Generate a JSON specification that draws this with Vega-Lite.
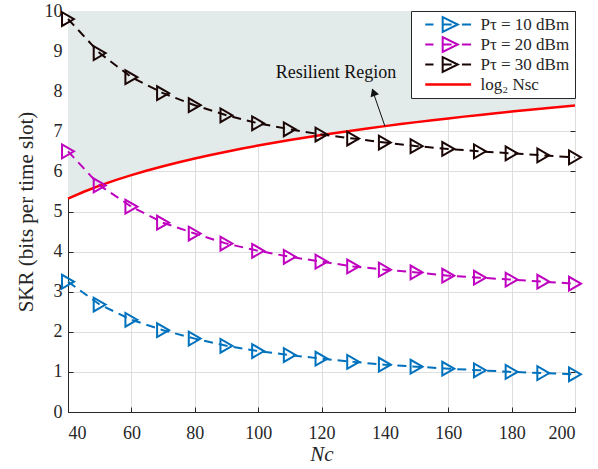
{
  "$schema": "https://vega.github.io/schema/vega-lite/v6.json",
  "width": 507,
  "height": 401,
  "autosize": {"type": "none"},
  "padding": {"left": 68, "top": 11, "right": 23, "bottom": 57},
  "background": "white",
  "config": {
    "font": "Liberation Serif",
    "view": {"stroke": "#262626", "strokeWidth": 1},
    "axis": {
      "labelFont": "Liberation Serif",
      "titleFont": "Liberation Serif",
      "labelFontSize": 18,
      "titleFontSize": 21,
      "titleFontWeight": "normal",
      "labelColor": "#262626",
      "titleColor": "#262626",
      "domainColor": "#262626",
      "tickColor": "#262626",
      "gridColor": "#dedede",
      "gridOpacity": 1,
      "tickSize": -5
    }
  },
  "datasets": {
    "series": [
      {"N": 40, "P": "10", "SKR": 3.25}, {"N": 50, "P": "10", "SKR": 2.68}, {"N": 60, "P": "10", "SKR": 2.3},
      {"N": 70, "P": "10", "SKR": 2.04}, {"N": 80, "P": "10", "SKR": 1.83}, {"N": 90, "P": "10", "SKR": 1.65},
      {"N": 100, "P": "10", "SKR": 1.52}, {"N": 110, "P": "10", "SKR": 1.42}, {"N": 120, "P": "10", "SKR": 1.33},
      {"N": 130, "P": "10", "SKR": 1.25}, {"N": 140, "P": "10", "SKR": 1.18}, {"N": 150, "P": "10", "SKR": 1.13},
      {"N": 160, "P": "10", "SKR": 1.08}, {"N": 170, "P": "10", "SKR": 1.04}, {"N": 180, "P": "10", "SKR": 1.0},
      {"N": 190, "P": "10", "SKR": 0.97}, {"N": 200, "P": "10", "SKR": 0.94},
      {"N": 40, "P": "20", "SKR": 6.5}, {"N": 50, "P": "20", "SKR": 5.65}, {"N": 60, "P": "20", "SKR": 5.12},
      {"N": 70, "P": "20", "SKR": 4.72}, {"N": 80, "P": "20", "SKR": 4.45}, {"N": 90, "P": "20", "SKR": 4.2},
      {"N": 100, "P": "20", "SKR": 4.02}, {"N": 110, "P": "20", "SKR": 3.87}, {"N": 120, "P": "20", "SKR": 3.75},
      {"N": 130, "P": "20", "SKR": 3.63}, {"N": 140, "P": "20", "SKR": 3.55}, {"N": 150, "P": "20", "SKR": 3.48},
      {"N": 160, "P": "20", "SKR": 3.4}, {"N": 170, "P": "20", "SKR": 3.35}, {"N": 180, "P": "20", "SKR": 3.3},
      {"N": 190, "P": "20", "SKR": 3.25}, {"N": 200, "P": "20", "SKR": 3.2},
      {"N": 40, "P": "30", "SKR": 9.8}, {"N": 50, "P": "30", "SKR": 8.95}, {"N": 60, "P": "30", "SKR": 8.35},
      {"N": 70, "P": "30", "SKR": 7.95}, {"N": 80, "P": "30", "SKR": 7.65}, {"N": 90, "P": "30", "SKR": 7.4},
      {"N": 100, "P": "30", "SKR": 7.2}, {"N": 110, "P": "30", "SKR": 7.05}, {"N": 120, "P": "30", "SKR": 6.92},
      {"N": 130, "P": "30", "SKR": 6.82}, {"N": 140, "P": "30", "SKR": 6.72}, {"N": 150, "P": "30", "SKR": 6.63},
      {"N": 160, "P": "30", "SKR": 6.56}, {"N": 170, "P": "30", "SKR": 6.5}, {"N": 180, "P": "30", "SKR": 6.45},
      {"N": 190, "P": "30", "SKR": 6.4}, {"N": 200, "P": "30", "SKR": 6.35}
    ],
    "bound": [
      {"N": 40, "v": 5.322}, {"N": 45, "v": 5.492}, {"N": 50, "v": 5.644}, {"N": 55, "v": 5.781},
      {"N": 60, "v": 5.907}, {"N": 65, "v": 6.022}, {"N": 70, "v": 6.129}, {"N": 75, "v": 6.229},
      {"N": 80, "v": 6.322}, {"N": 85, "v": 6.409}, {"N": 90, "v": 6.492}, {"N": 95, "v": 6.57},
      {"N": 100, "v": 6.644}, {"N": 105, "v": 6.714}, {"N": 110, "v": 6.781}, {"N": 115, "v": 6.845},
      {"N": 120, "v": 6.907}, {"N": 125, "v": 6.966}, {"N": 130, "v": 7.022}, {"N": 135, "v": 7.077},
      {"N": 140, "v": 7.129}, {"N": 145, "v": 7.18}, {"N": 150, "v": 7.229}, {"N": 155, "v": 7.276},
      {"N": 160, "v": 7.322}, {"N": 165, "v": 7.366}, {"N": 170, "v": 7.409}, {"N": 175, "v": 7.451},
      {"N": 180, "v": 7.492}, {"N": 185, "v": 7.531}, {"N": 190, "v": 7.57}, {"N": 195, "v": 7.607},
      {"N": 200, "v": 7.644}
    ],
    "note": [{"N": 124.6, "v": 8.45, "label": "Resilient Region"}],
    "arrow": [{"N": 140, "v": 7.13, "N2": 136.1, "v2": 8.02}],
    "head": [{"N": 136.4, "v": 7.975}]
  },
  "layer": [
    {
      "encoding": {
        "x": {
          "field": "N", "type": "quantitative",
          "scale": {"domain": [40, 200], "nice": false, "zero": false},
          "axis": {"values": [40, 60, 80, 100, 120, 140, 160, 180, 200], "title": "Nc", "titleFontStyle": "italic", "grid": true, "labelPadding": 17, "titlePadding": 1}
        },
        "y": {
          "field": "v", "type": "quantitative",
          "scale": {"domain": [0, 10], "nice": false},
          "axis": {"values": [0, 1, 2, 3, 4, 5, 6, 7, 8, 9, 10], "title": "SKR (bits per time slot)", "grid": true, "labelPadding": 11, "titlePadding": 8}
        }
      },
      "layer": [
        {
          "data": {"name": "bound"},
          "mark": {"type": "area", "color": "#e3eaea", "opacity": 1},
          "encoding": {"y2": {"datum": 10}}
        },
        {
          "data": {"name": "bound"},
          "mark": {"type": "line", "strokeWidth": 2.5},
          "encoding": {"color": {"datum": "log"}}
        },
        {
          "data": {"name": "series"},
          "mark": {"type": "line", "strokeWidth": 2, "strokeDash": [9, 6]},
          "encoding": {
            "y": {"field": "SKR", "type": "quantitative"},
            "color": {
              "field": "P", "type": "nominal",
              "scale": {"domain": ["10", "20", "30", "log"], "range": ["#0072BD", "#BF00BF", "#1a0505", "#FF0000"]},
              "legend": {
                "title": null,
                "orient": "top-right",
                "offset": 0,
                "padding": 5,
                "strokeColor": "#262626",
                "fillColor": "white",
                "cornerRadius": 0,
                "labelFont": "Liberation Serif",
                "labelFontSize": 17,
                "labelColor": "#262626",
                "labelOffset": 33,
                "symbolOffset": 14.5,
                "symbolSize": 2100,
                "symbolStrokeWidth": 2,
                "symbolFillColor": "transparent",
                "rowPadding": -4,
                "labelExpr": "datum.value == 'log' ? 'log₂ Nsc' : 'Pτ = ' + datum.value + ' dBm'",
                "encode": {
                  "symbols": {
                    "update": {
                      "shape": {"signal": "datum.value == 'log' ? 'M-0.6,0L1.4,0' : 'M-0.6,0L-0.24,0M0.16,-0.32L0.82,0L0.16,0.32ZM0.16,0L0.55,0M1,0L1.4,0'"},
                      "strokeWidth": {"signal": "datum.value == 'log' ? 2.5 : 2"}
                    }
                  }
                }
              }
            }
          }
        },
        {
          "data": {"name": "series"},
          "mark": {"type": "point", "shape": "triangle-right", "filled": false, "size": 190, "strokeWidth": 2, "opacity": 1},
          "encoding": {
            "y": {"field": "SKR", "type": "quantitative"},
            "color": {"field": "P", "type": "nominal"}
          }
        },
        {
          "data": {"name": "note"},
          "mark": {"type": "text", "font": "Liberation Serif", "fontSize": 18, "color": "#111111"},
          "encoding": {"text": {"field": "label"}}
        },
        {
          "data": {"name": "arrow"},
          "mark": {"type": "rule", "color": "#111111", "strokeWidth": 1},
          "encoding": {"x2": {"field": "N2"}, "y2": {"field": "v2"}}
        },
        {
          "data": {"name": "head"},
          "mark": {"type": "point", "shape": "triangle-up", "filled": true, "size": 80, "angle": -20, "color": "#111111", "opacity": 1},
          "encoding": {}
        }
      ]
    },
    {
      "data": {"name": "head"},
      "mark": {"type": "point", "opacity": 0},
      "encoding": {
        "x": {"field": "N", "type": "quantitative", "axis": {"orient": "top", "values": [40, 60, 80, 100, 120, 140, 160, 180, 200], "labels": false, "domain": false, "grid": false, "title": null}},
        "y": {"field": "v", "type": "quantitative", "axis": {"orient": "right", "values": [0, 1, 2, 3, 4, 5, 6, 7, 8, 9, 10], "labels": false, "domain": false, "grid": false, "title": null}}
      }
    }
  ],
  "resolve": {"axis": {"x": "independent", "y": "independent"}}
}
